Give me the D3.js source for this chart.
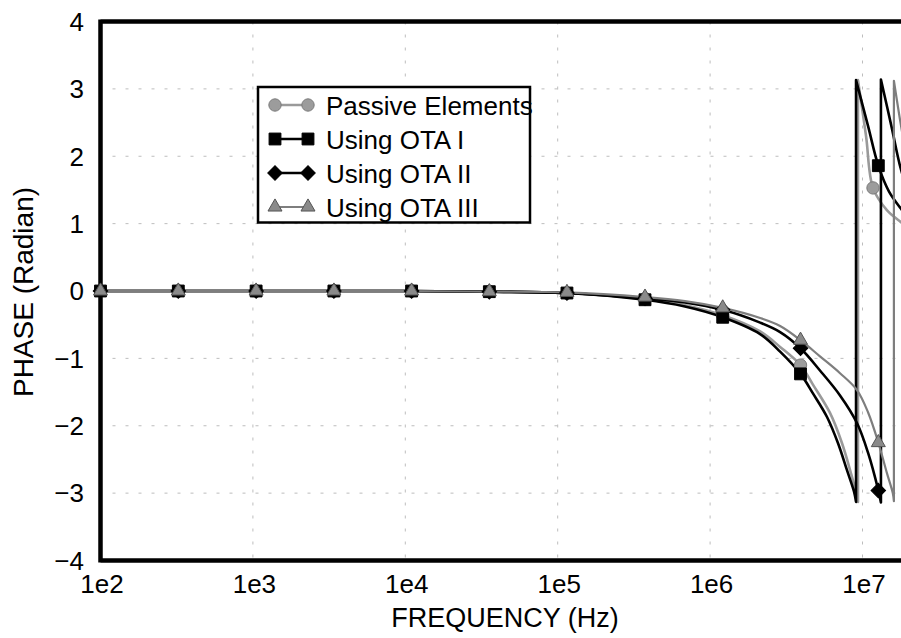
<!DOCTYPE html>
<html><head><meta charset="utf-8">
<script src="https://cdn.jsdelivr.net/npm/d3@7"></script>
<style>body{margin:0;background:#fff}svg{display:block}</style>
</head><body>
<svg id="c" width="901" height="638"></svg>
<script>
// ---------- data ----------
const xTickValues = [1e2, 1e3, 1e4, 1e5, 1e6, 1e7];
const xTickLabels = ["1e2", "1e3", "1e4", "1e5", "1e6", "1e7"];
const yTickValues = [4, 3, 2, 1, 0, -1, -2, -3, -4];
const yGridValues = [3, 2, 1, -1, -2, -3];
const seriesNames = ["Passive Elements", "Using OTA I", "Using OTA II", "Using OTA III"];
const xTitle = "FREQUENCY (Hz)";
const yTitle = "PHASE (Radian)";

// line samples (frequency in Hz, phase in radian; wrapped phase jumps from -pi to +pi)
const passiveFreq  = [100, 1000, 10000, 36000, 113000, 374000, 684000, 1210000, 2130000, 2880000, 3920000, 4730000, 6120000, 7340000, 8410000, 9200000, 9340000, 9340000, 10550000, 11720000, 14450000, 17900000, 20500000];
const passivePhase = [0, 0, 0, -0.01, -0.03, -0.12, -0.21, -0.36, -0.60, -0.83, -1.10, -1.39, -1.81, -2.26, -2.71, -3.04, -3.13, 3.13, 2.30, 1.53, 1.20, 1.02, 0.90];

const otaIFreq  = [100, 1000, 10000, 36000, 113000, 374000, 684000, 1210000, 2130000, 2880000, 3920000, 4730000, 5850000, 6910000, 7910000, 8800000, 9070000, 9070000, 10870000, 12700000, 14900000, 17900000, 20500000];
const otaIPhase = [0, 0, 0, -0.01, -0.03, -0.13, -0.23, -0.39, -0.64, -0.90, -1.23, -1.52, -1.87, -2.26, -2.66, -2.98, -3.13, 3.13, 2.45, 1.86, 1.48, 1.22, 1.05];

const otaIIFreq  = [100, 1000, 10000, 36000, 113000, 374000, 684000, 1210000, 2130000, 2880000, 3920000, 5260000, 7120000, 9200000, 10870000, 12700000, 13210000, 13210000, 15500000, 17900000, 20500000];
const otaIIPhase = [0, 0, 0, -0.01, -0.03, -0.11, -0.17, -0.28, -0.47, -0.61, -0.85, -1.18, -1.55, -1.96, -2.40, -2.96, -3.14, 3.14, 2.44, 1.80, 1.40];

const otaIIIFreq  = [100, 1000, 10000, 36000, 113000, 374000, 684000, 1210000, 2130000, 2880000, 3920000, 5260000, 7120000, 9200000, 10870000, 12700000, 14450000, 15800000, 16070000, 16070000, 17900000, 20500000];
const otaIIIPhase = [0, 0, 0, -0.01, -0.02, -0.09, -0.15, -0.25, -0.40, -0.52, -0.73, -0.97, -1.22, -1.47, -1.80, -2.25, -2.70, -3.00, -3.12, 3.12, 2.45, 1.70];

// markers
const markerFreq        = [100, 324, 1050, 3400, 11000, 35600, 115000, 374000, 1210000, 3920000, 12700000];
const passiveMarkerFreq = [100, 324, 1050, 3400, 11000, 35600, 115000, 374000, 1210000, 3920000, 11720000];
const passiveMarkerPhase = [0, 0, 0, 0, 0, -0.01, -0.03, -0.12, -0.36, -1.10, 1.53];
const otaIMarkerPhase    = [0, 0, 0, 0, 0, -0.01, -0.03, -0.13, -0.39, -1.23, 1.86];
const otaIIMarkerPhase   = [0, 0, 0, 0, 0, -0.01, -0.03, -0.11, -0.28, -0.85, -2.96];
const otaIIIMarkerPhase  = [0, 0, 0, 0, 0, -0.01, -0.02, -0.09, -0.25, -0.73, -2.25];

// ---------- layout ----------
const L = 100.5, T = 21.5, B = 560.5, decade = 152.4;
const svg = d3.select("#c");
const x = d3.scaleLog().domain([1e2, 1e7]).range([L, L + 5 * decade]);
const y = d3.scaleLinear().domain([-4, 4]).range([B, T]);
const font = "'Liberation Sans', Arial, Helvetica, sans-serif";

const series = [
  {name: seriesNames[0], freq: passiveFreq, phase: passivePhase, mf: passiveMarkerFreq, mp: passiveMarkerPhase,
   stroke: "#9a9a9a", width: 2.6, sym: d3.symbolCircle, size: 120, fill: "#9c9c9c", mstroke: "#7a7a7a", rot: 0},
  {name: seriesNames[1], freq: otaIFreq, phase: otaIPhase, mf: markerFreq, mp: otaIMarkerPhase,
   stroke: "#000", width: 2.6, sym: d3.symbolSquare, size: 140, fill: "#000", mstroke: "#000", rot: 0},
  {name: seriesNames[2], freq: otaIIFreq, phase: otaIIPhase, mf: markerFreq, mp: otaIIMarkerPhase,
   stroke: "#000", width: 2.6, sym: d3.symbolSquare, size: 105, fill: "#000", mstroke: "#000", rot: 45},
  {name: seriesNames[3], freq: otaIIIFreq, phase: otaIIIPhase, mf: markerFreq, mp: otaIIIMarkerPhase,
   stroke: "#7e7e7e", width: 2.2, sym: d3.symbolTriangle, size: 85, fill: "#8a8a8a", mstroke: "#555", rot: 0}
];

// clip
svg.append("defs").append("clipPath").attr("id", "plot")
  .append("rect").attr("x", L).attr("y", T - 2).attr("width", 901 - L + 20).attr("height", B - T + 4);

// gridlines
const grid = svg.append("g").attr("stroke", "#bdbdbd").attr("stroke-width", 1).attr("stroke-dasharray", "3,10");
grid.selectAll("line.v").data(xTickValues.slice(1)).join("line")
  .attr("x1", d => x(d)).attr("x2", d => x(d)).attr("y1", T).attr("y2", B);
grid.selectAll("line.h").data(yGridValues).join("line")
  .attr("x1", L + 12).attr("x2", 920).attr("y1", d => y(d)).attr("y2", d => y(d));

// lines
const lineGen = d3.line().x(d => x(d[0])).y(d => y(d[1])).curve(d3.curveCatmullRom.alpha(0.5));
function pathFor(s) {
  const segs = [[]];
  s.freq.forEach((f, i) => {
    if (i > 0 && Math.abs(s.phase[i] - s.phase[i - 1]) > 4) segs.push([]);
    segs[segs.length - 1].push([f, s.phase[i]]);
  });
  return segs.map((seg, i) => { const d = lineGen(seg); return i ? d.replace(/^M/, "L") : d; }).join("");
}
const lines = svg.append("g").attr("clip-path", "url(#plot)");
series.forEach(s => {
  lines.append("path").attr("d", pathFor(s)).attr("fill", "none")
    .attr("stroke", s.stroke).attr("stroke-width", s.width).attr("stroke-linejoin", "round");
});

// frame
svg.append("path")
  .attr("d", `M${L},${T}H930M${L},${T - 2}V${B + 2}M${L},${B}H930`)
  .attr("stroke", "#000").attr("stroke-width", 4.5).attr("fill", "none");

// markers
series.forEach(s => {
  const sym = d3.symbol().type(s.sym).size(s.size);
  svg.append("g").selectAll("path").data(s.mf.map((f, i) => [f, s.mp[i]])).join("path")
    .attr("d", sym)
    .attr("transform", d => `translate(${x(d[0])},${y(d[1])}) rotate(${s.rot})`)
    .attr("fill", s.fill).attr("stroke", s.mstroke).attr("stroke-width", 1);
});

// y tick labels
svg.append("g").selectAll("text").data(yTickValues).join("text")
  .attr("x", 84).attr("y", d => y(d)).attr("dy", "0.36em")
  .attr("text-anchor", "end").attr("font-family", font).attr("font-size", 26)
  .text(d => d < 0 ? "\u2212" + Math.abs(d) : String(d));

// x tick labels
svg.append("g").selectAll("text").data(xTickValues).join("text")
  .attr("x", (d, i) => x(d) + 1.5).attr("y", 593)
  .attr("text-anchor", "middle").attr("font-family", font).attr("font-size", 26)
  .text((d, i) => xTickLabels[i]);

// axis titles
svg.append("text").attr("x", 505).attr("y", 627).attr("text-anchor", "middle")
  .attr("font-family", font).attr("font-size", 27).text(xTitle);
svg.append("text").attr("transform", "translate(22.5,292) rotate(-90)").attr("dy", "0.36em")
  .attr("text-anchor", "middle").attr("font-family", font).attr("font-size", 28).text(yTitle);

// legend
const lg = svg.append("g");
lg.append("rect").attr("x", 258).attr("y", 87).attr("width", 272).attr("height", 135.5)
  .attr("fill", "#fff").attr("stroke", "#000").attr("stroke-width", 2.5);
const rowY = [105, 139, 173, 207];
series.forEach((s, i) => {
  const yy = rowY[i];
  lg.append("line").attr("x1", 275).attr("x2", 308).attr("y1", yy).attr("y2", yy)
    .attr("stroke", s.stroke).attr("stroke-width", s.width);
  const sym = d3.symbol().type(s.sym).size(s.size);
  [275, 308].forEach(xx => {
    lg.append("path").attr("d", sym).attr("transform", `translate(${xx},${yy}) rotate(${s.rot})`)
      .attr("fill", s.fill).attr("stroke", s.mstroke).attr("stroke-width", 1);
  });
  lg.append("text").attr("x", 326).attr("y", yy + 9.5).attr("font-family", font).attr("font-size", 26).text(s.name);
});
</script>
</body></html>
